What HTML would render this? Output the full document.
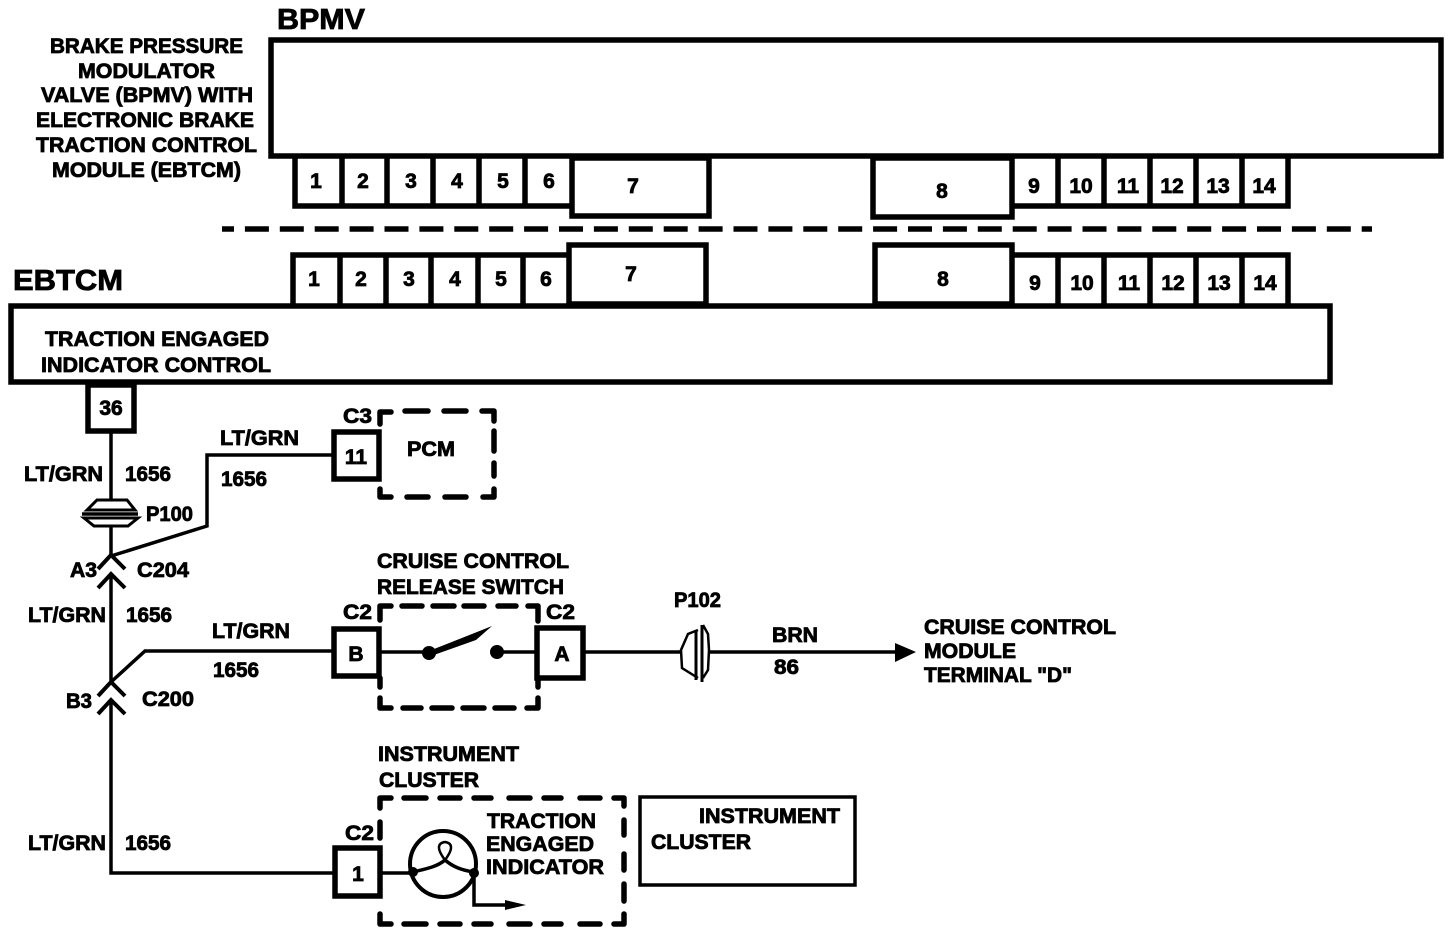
<!DOCTYPE html>
<html><head><meta charset="utf-8"><style>
html,body{margin:0;padding:0;background:#fff}
svg{display:block}
text{font-family:"Liberation Sans",sans-serif;font-weight:bold;font-size:21px;fill:#000;stroke:#000;stroke-width:.8px}
.l{fill:none;stroke:#000;stroke-width:3.5}
.b{fill:#fff;stroke:#000;stroke-width:5.5}
.m{fill:none;stroke:#000;stroke-width:5.5}
.d{fill:none;stroke:#000;stroke-width:5.5;stroke-linecap:round;stroke-linejoin:round}
</style></head><body>
<svg width="1456" height="934" viewBox="0 0 1456 934" xmlns="http://www.w3.org/2000/svg">
<!-- BPMV -->
<rect class="b" x="271" y="40" width="1170" height="116"/>
<path class="m" d="M295 158V206H572M342 158V206M387 158V206M433 158V206M479 158V206M525 158V206"/>
<rect class="m" x="572" y="158" width="137" height="58"/>
<path class="m" d="M1012 206H1288V158M1058 158V206M1104 158V206M1150 158V206M1196 158V206M1242 158V206"/>
<rect class="m" x="873" y="158" width="139" height="59"/>
<path d="M222 229H1372" fill="none" stroke="#000" stroke-width="5.5" stroke-dasharray="24 10.9" stroke-dashoffset="12"/>
<!-- EBTCM -->
<path class="m" d="M293 304V255H569M340 255V304M386 255V304M431 255V304M478 255V304M523 255V304"/>
<rect class="m" x="569" y="245" width="137" height="59"/>
<rect class="m" x="875" y="245" width="137" height="59"/>
<path class="m" d="M1012 255H1288V304M1058 255V304M1104 255V304M1150 255V304M1196 255V304M1242 255V304"/>
<rect class="b" x="11" y="306" width="1319" height="76"/>
<rect class="b" x="88" y="385" width="46" height="46"/>
<!-- wiring -->
<path class="l" d="M111 431V500M111 518V556"/>
<path class="l" d="M111 556L207 526V455H333"/>
<path class="l" d="M111 574V682"/>
<path class="l" d="M111 682L145 651H333"/>
<path class="l" d="M111 700V873H333"/>
<!-- chevrons -->
<path class="l" style="stroke-width:4" d="M98 569L111 555L125 569M98 588L111 574L125 588M98 696L111 682L125 696M98 714L111 700L125 714"/>
<!-- P100 -->
<path d="M87 510L97 500H127L135 510ZM84 518L94 526H128L138 518Z" fill="#fff" stroke="#000" stroke-width="3"/>
<path d="M82 514H138" stroke="#000" stroke-width="3.5"/>
<!-- C3/PCM -->
<rect class="b" x="334" y="432" width="45" height="47"/>
<path class="d" d="M380 424V412H391M405 411H428M444 411H466M482 411H494V421M494 431V451M494 463V476M494 489V497H483M466 497H445M428 497H407M391 497H380V489"/>
<!-- Cruise -->
<rect class="b" x="334" y="629" width="45" height="47"/>
<rect class="b" x="537" y="628" width="46" height="50"/>
<path class="l" d="M379 652H429M497 652H537M583 652H683M709 652H900"/>
<circle cx="429" cy="653" r="7"/><circle cx="497" cy="652" r="7"/>
<path d="M429 651L477 632L492 626L476 640L431 656Z"/>
<path class="d" d="M380 620V606H391M402 606H422M433 606H454M464 606H484M498 606H516M528 606H538V621M538 678V687M380 678V687M380 698V708H391M403 708H421M432 708H452M463 708H484M495 708H514M527 708H538V698"/>
<!-- P102 -->
<path d="M698 630L688 634L681 650L682 668L698 678M703 625L708 634L709 650L708 670L703 678" fill="#fff" stroke="#000" stroke-width="2.5"/>
<path d="M696 630V680M702 625V682" stroke="#000" stroke-width="3"/>
<path d="M895 643L916 652L895 662Z"/>
<!-- Instrument -->
<rect class="b" x="335" y="848" width="45" height="48"/>
<path class="l" d="M380 873H410"/>
<circle cx="443" cy="864" r="33" fill="#fff" stroke="#000" stroke-width="4"/>
<path class="l" d="M413 872C430 868 438 866 445 860C452 866 460 870 474 872"/>
<path d="M445 860C436 848 438 843 445 842C452 843 454 848 445 860Z" fill="none" stroke="#000" stroke-width="2.5"/>
<circle cx="413" cy="872" r="5"/><circle cx="474" cy="873" r="5"/>
<path class="l" d="M474 873V905H510"/>
<path d="M505 900L526 905L505 910Z"/>
<path class="d" d="M380 808V798H391M404 798H426M440 798H460M474 798H491M509 798H530M544 798H561M580 798H600M614 798H624V806M624 820V835M624 854V870M624 884V901M624 914V924H614M600 924H580M561 924H544M530 924H509M491 924H474M460 924H440M426 924H404M391 924H380V914M380 822V838"/>
<rect x="640" y="797" width="215" height="88" fill="#fff" stroke="#000" stroke-width="3.5"/>
<!-- text -->
<text x="277" y="29" style="font-size:29px" textLength="88" lengthAdjust="spacingAndGlyphs">BPMV</text>
<text x="50" y="53" textLength="193" lengthAdjust="spacingAndGlyphs">BRAKE PRESSURE</text>
<text x="78" y="78" textLength="137" lengthAdjust="spacingAndGlyphs">MODULATOR</text>
<text x="41" y="102" textLength="212" lengthAdjust="spacingAndGlyphs">VALVE (BPMV) WITH</text>
<text x="36" y="127" textLength="218" lengthAdjust="spacingAndGlyphs">ELECTRONIC BRAKE</text>
<text x="36" y="152" textLength="221" lengthAdjust="spacingAndGlyphs">TRACTION CONTROL</text>
<text x="52" y="177" textLength="189" lengthAdjust="spacingAndGlyphs">MODULE (EBTCM)</text>
<g text-anchor="middle">
<text x="316" y="188">1</text><text x="363" y="188">2</text><text x="411" y="188">3</text><text x="457" y="188">4</text><text x="503" y="188">5</text><text x="549" y="188">6</text>
<text x="633" y="193">7</text><text x="942" y="198">8</text>
<text x="1034" y="193">9</text><text x="1081" y="193">10</text><text x="1128" y="193">11</text><text x="1172" y="193">12</text><text x="1218" y="193">13</text><text x="1264" y="193">14</text>
<text x="314" y="286">1</text><text x="361" y="286">2</text><text x="409" y="286">3</text><text x="455" y="286">4</text><text x="501" y="286">5</text><text x="546" y="286">6</text>
<text x="631" y="281">7</text><text x="943" y="286">8</text>
<text x="1035" y="290">9</text><text x="1082" y="290">10</text><text x="1129" y="290">11</text><text x="1173" y="290">12</text><text x="1219" y="290">13</text><text x="1265" y="290">14</text>
<text x="111" y="415">36</text><text x="356" y="464">11</text><text x="356" y="661">B</text><text x="562" y="661">A</text><text x="358" y="881">1</text>
</g>
<text x="13" y="290" style="font-size:29px" textLength="110" lengthAdjust="spacingAndGlyphs">EBTCM</text>
<text x="45" y="346" textLength="224" lengthAdjust="spacingAndGlyphs">TRACTION ENGAGED</text>
<text x="41" y="372" textLength="230" lengthAdjust="spacingAndGlyphs">INDICATOR CONTROL</text>
<text x="24" y="481" textLength="79" lengthAdjust="spacingAndGlyphs">LT/GRN</text>
<text x="125" y="481" textLength="46" lengthAdjust="spacingAndGlyphs">1656</text>
<text x="146" y="521" textLength="47" lengthAdjust="spacingAndGlyphs">P100</text>
<text x="220" y="445" textLength="79" lengthAdjust="spacingAndGlyphs">LT/GRN</text>
<text x="221" y="486" textLength="46" lengthAdjust="spacingAndGlyphs">1656</text>
<text x="343" y="423" textLength="29" lengthAdjust="spacingAndGlyphs">C3</text>
<text x="407" y="456" textLength="48" lengthAdjust="spacingAndGlyphs">PCM</text>
<text x="70" y="577" textLength="27" lengthAdjust="spacingAndGlyphs">A3</text>
<text x="137" y="577" textLength="52" lengthAdjust="spacingAndGlyphs">C204</text>
<text x="28" y="622" textLength="78" lengthAdjust="spacingAndGlyphs">LT/GRN</text>
<text x="126" y="622" textLength="46" lengthAdjust="spacingAndGlyphs">1656</text>
<text x="212" y="638" textLength="78" lengthAdjust="spacingAndGlyphs">LT/GRN</text>
<text x="213" y="677" textLength="46" lengthAdjust="spacingAndGlyphs">1656</text>
<text x="66" y="708" textLength="26" lengthAdjust="spacingAndGlyphs">B3</text>
<text x="142" y="706" textLength="52" lengthAdjust="spacingAndGlyphs">C200</text>
<text x="377" y="568" textLength="192" lengthAdjust="spacingAndGlyphs">CRUISE CONTROL</text>
<text x="377" y="594" textLength="187" lengthAdjust="spacingAndGlyphs">RELEASE SWITCH</text>
<text x="343" y="619" textLength="29" lengthAdjust="spacingAndGlyphs">C2</text>
<text x="546" y="619" textLength="29" lengthAdjust="spacingAndGlyphs">C2</text>
<text x="674" y="607" textLength="47" lengthAdjust="spacingAndGlyphs">P102</text>
<text x="772" y="642" textLength="46" lengthAdjust="spacingAndGlyphs">BRN</text>
<text x="774" y="674" textLength="25" lengthAdjust="spacingAndGlyphs">86</text>
<text x="924" y="634" textLength="192" lengthAdjust="spacingAndGlyphs">CRUISE CONTROL</text>
<text x="924" y="658" textLength="92" lengthAdjust="spacingAndGlyphs">MODULE</text>
<text x="924" y="682" textLength="148" lengthAdjust="spacingAndGlyphs">TERMINAL "D"</text>
<text x="378" y="761" textLength="141" lengthAdjust="spacingAndGlyphs">INSTRUMENT</text>
<text x="379" y="787" textLength="100" lengthAdjust="spacingAndGlyphs">CLUSTER</text>
<text x="28" y="850" textLength="78" lengthAdjust="spacingAndGlyphs">LT/GRN</text>
<text x="125" y="850" textLength="46" lengthAdjust="spacingAndGlyphs">1656</text>
<text x="345" y="840" textLength="29" lengthAdjust="spacingAndGlyphs">C2</text>
<text x="487" y="828" textLength="109" lengthAdjust="spacingAndGlyphs">TRACTION</text>
<text x="486" y="851" textLength="108" lengthAdjust="spacingAndGlyphs">ENGAGED</text>
<text x="486" y="874" textLength="118" lengthAdjust="spacingAndGlyphs">INDICATOR</text>
<text x="699" y="823" textLength="141" lengthAdjust="spacingAndGlyphs">INSTRUMENT</text>
<text x="651" y="849" textLength="100" lengthAdjust="spacingAndGlyphs">CLUSTER</text>
</svg>
</body></html>
